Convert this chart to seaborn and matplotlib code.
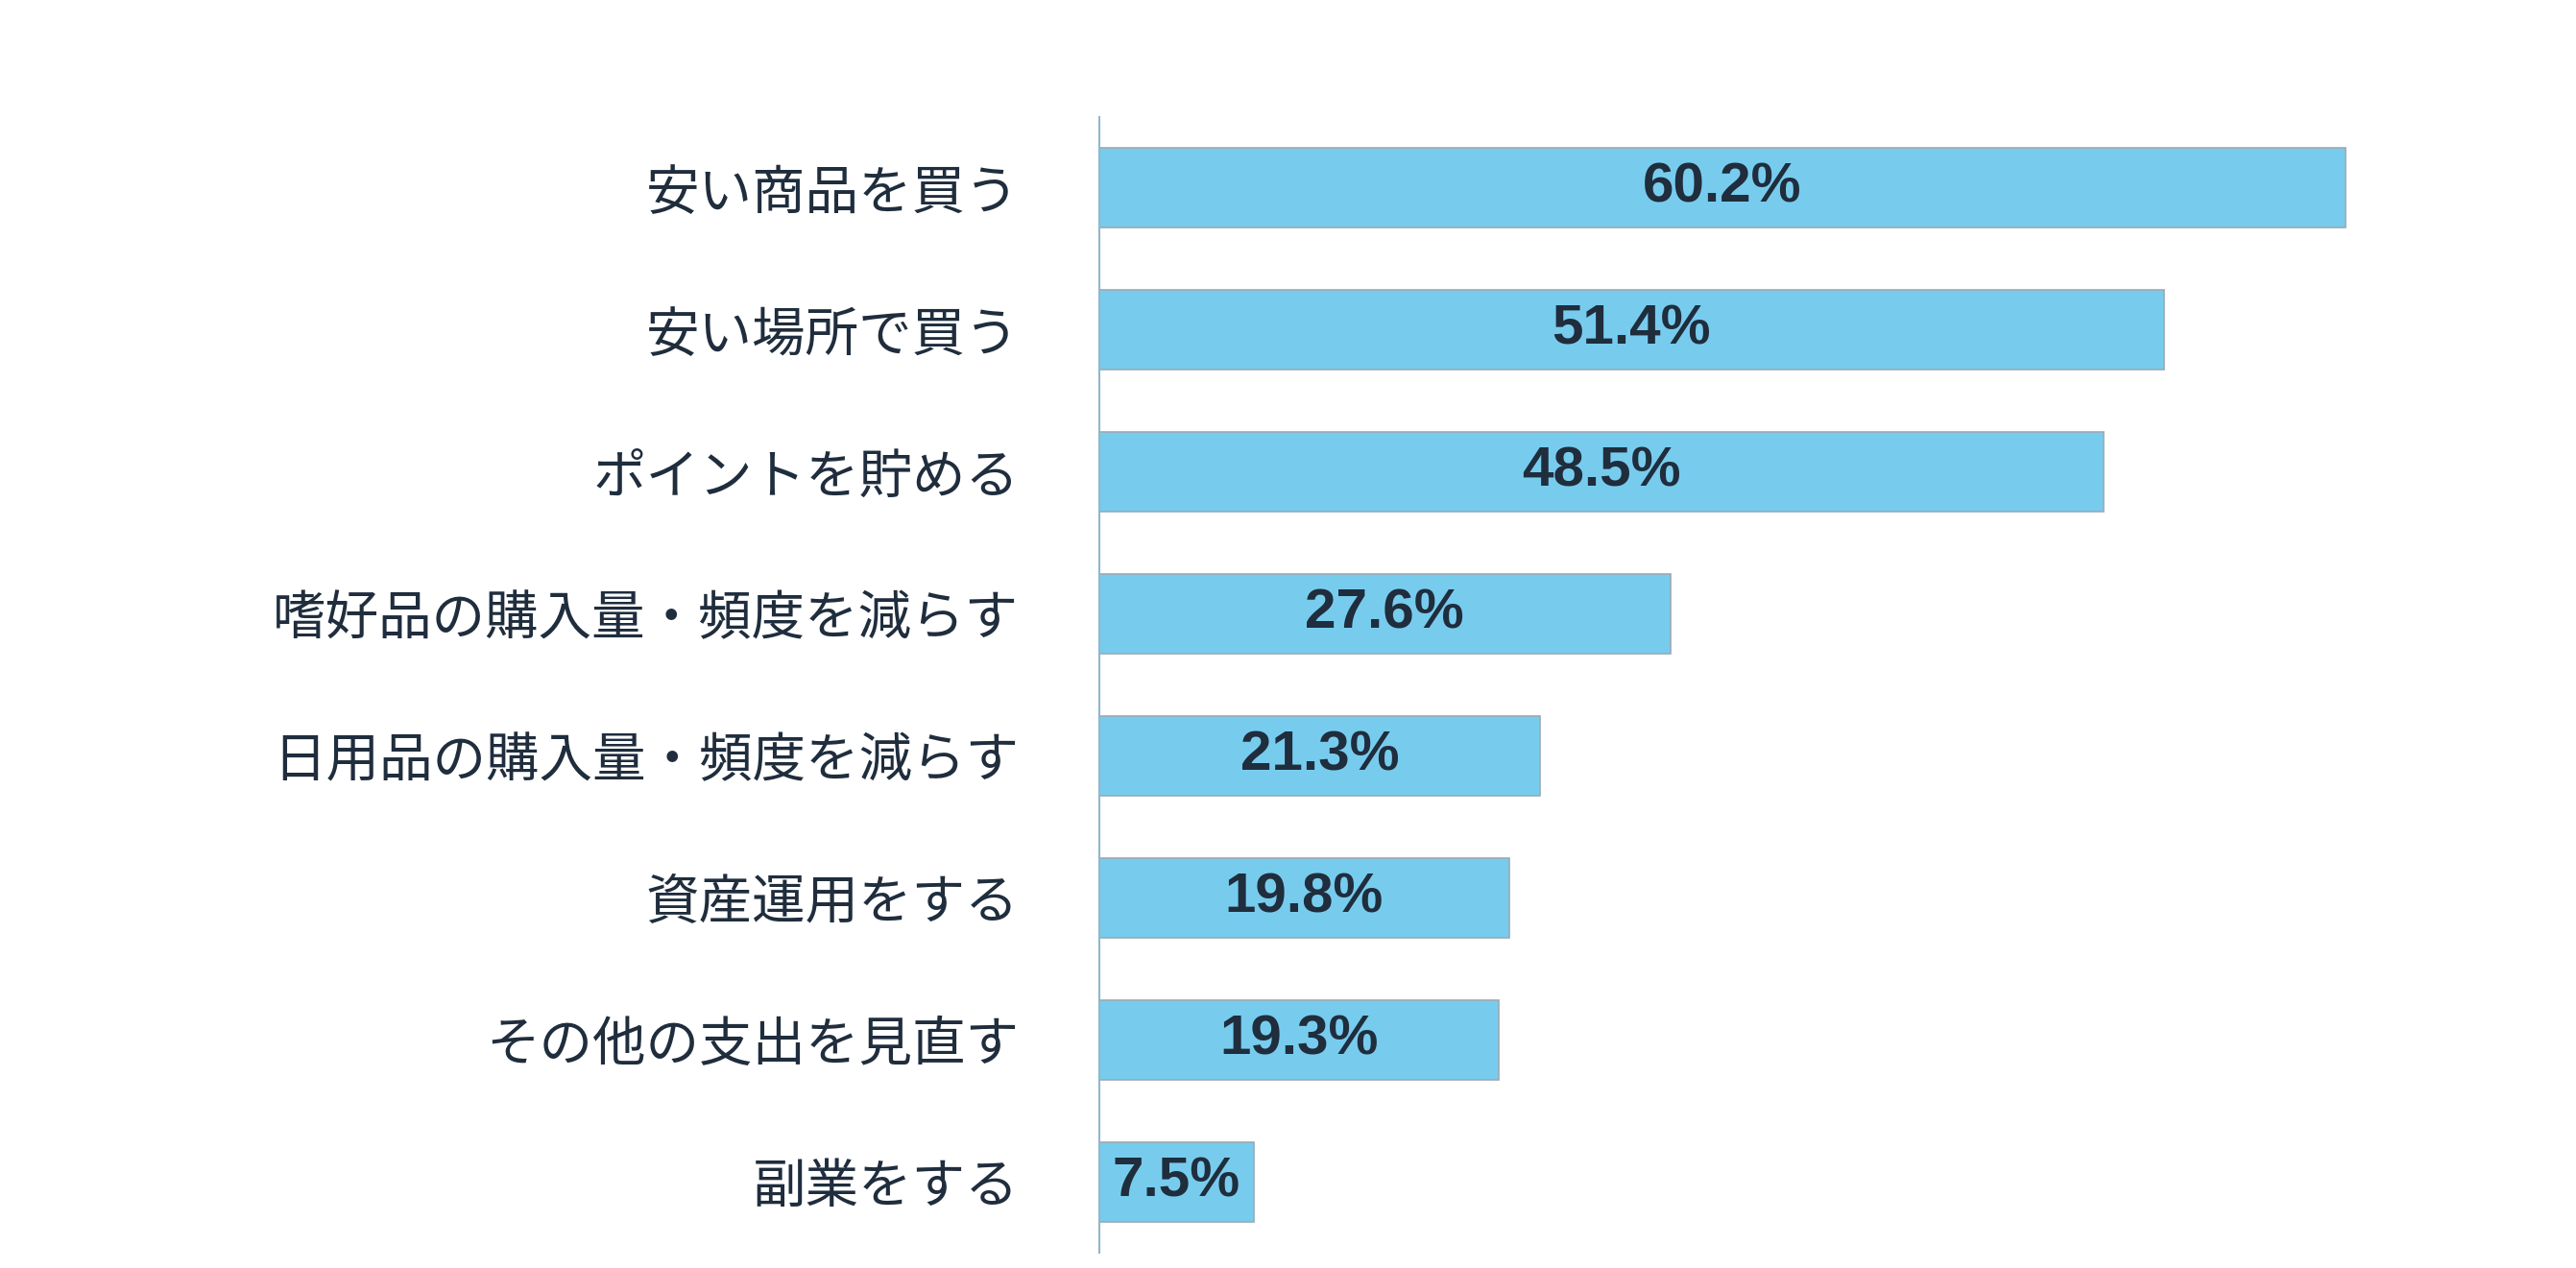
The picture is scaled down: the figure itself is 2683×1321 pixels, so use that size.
import matplotlib
matplotlib.use("Agg")
import matplotlib.pyplot as plt
import seaborn as sns
import pandas as pd

categories = ["安い商品を買う", "安い場所で買う", "ポイントを貯める", "嗜好品の購入量・頻度を減らす",
              "日用品の購入量・頻度を減らす", "資産運用をする", "その他の支出を見直す", "副業をする"]
values = [60.2, 51.4, 48.5, 27.6, 21.3, 19.8, 19.3, 7.5]
labels = ["60.2%", "51.4%", "48.5%", "27.6%", "21.3%", "19.8%", "19.3%", "7.5%"]

df = pd.DataFrame({"cat": categories, "val": values})
fig = plt.figure(figsize=(26.83, 13.21), dpi=100)
ax = fig.add_axes([0.4266, 0.012, 0.5034, 0.896])
sns.barplot(data=df, x="val", y="cat", orient="h", color="#77CCEE", saturation=1,
            width=0.56, edgecolor="#9aaab5", linewidth=1.2, ax=ax)
ax.set_xlim(0, 62.6)
ax.set_ylim(7.5, -0.5)
for i, (v, t) in enumerate(zip(values, labels)):
    ax.text(v / 2, i, t, ha="center", va="center", fontsize=42, fontweight="bold",
            color="#1f2d3d", family="Liberation Sans")
ax.set_xlabel(""); ax.set_ylabel("")
ax.set_xticks([])
ax.tick_params(axis="y", length=0, pad=60)
for lab in ax.get_yticklabels():
    lab.set_fontfamily("Noto Sans CJK JP")
    lab.set_fontsize(40)
    lab.set_color("#1f2d3d")
for s in ["top", "right", "bottom"]:
    ax.spines[s].set_visible(False)
ax.spines["left"].set_color("#8fb8cc")
ax.spines["left"].set_linewidth(1.5)
fig.savefig("out.png", dpi=100, facecolor="white")
